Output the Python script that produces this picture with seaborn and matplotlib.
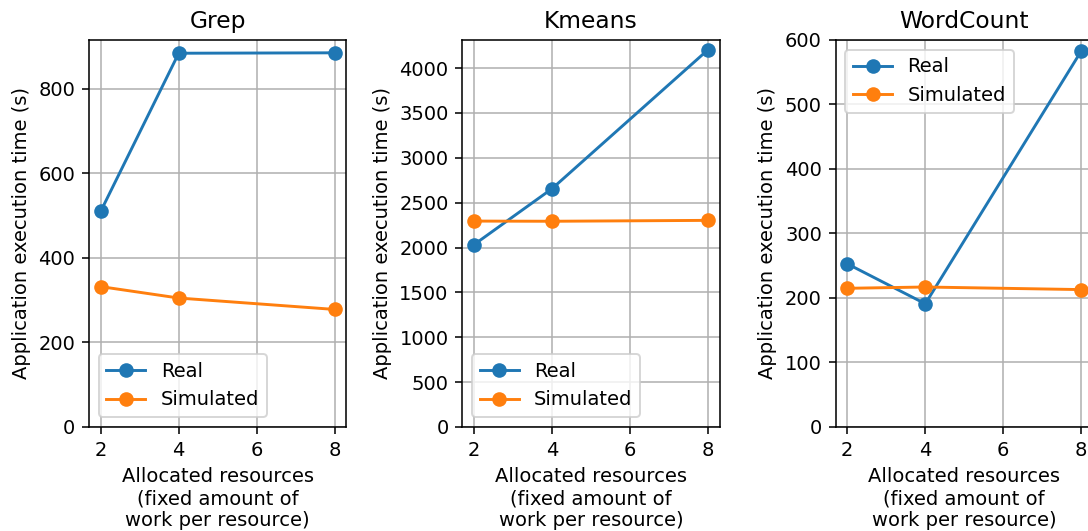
import seaborn as sns
import matplotlib.pyplot as plt
import pandas as pd

OUTPUT_IMAGE = "out.png"

resources = [2, 4, 8]
titles = ["Grep", "Kmeans", "WordCount"]

grep_real = [510, 884, 885]
grep_sim = [332, 305, 278]
kmeans_real = [2032, 2656, 4205]
kmeans_sim = [2295, 2293, 2303]
wordcount_real = [253, 191, 583]
wordcount_sim = [215, 217, 213]

legend_locs = ["lower left", "lower left", "upper left"]
y_tops = [None, None, 600]

real_all = [grep_real, kmeans_real, wordcount_real]
sim_all = [grep_sim, kmeans_sim, wordcount_sim]

plt.rcParams["font.family"] = ["DejaVu Sans"]
plt.rcParams["font.size"] = 10

fig, axes = plt.subplots(1, 3, figsize=(1088 / 140, 531 / 140), dpi=140)
fig.subplots_adjust(left=0.0818, right=1.0046, top=0.9247, bottom=0.1959, wspace=0.45)

for ax, title, real, sim, loc, top in zip(axes, titles, real_all, sim_all, legend_locs, y_tops):
    df = pd.DataFrame({"res": resources, "Real": real, "Simulated": sim})
    sns.lineplot(data=df, x="res", y="Real", marker="o", markersize=7.5,
                 markeredgewidth=0, linewidth=1.5, color="#1f77b4", label="Real", ax=ax)
    sns.lineplot(data=df, x="res", y="Simulated", marker="o", markersize=7.5,
                 markeredgewidth=0, linewidth=1.5, color="#ff7f0e", label="Simulated", ax=ax)
    ax.set_title(title)
    ax.set_xticks([2, 4, 6, 8])
    ax.set_ylim(bottom=0, top=top)
    ax.grid(True)
    ax.set_xlabel("Allocated resources\n(fixed amount of\nwork per resource)")
    ax.set_ylabel("Application execution time (s)")
    ax.legend(loc=loc)

plt.savefig(OUTPUT_IMAGE, dpi=140)
